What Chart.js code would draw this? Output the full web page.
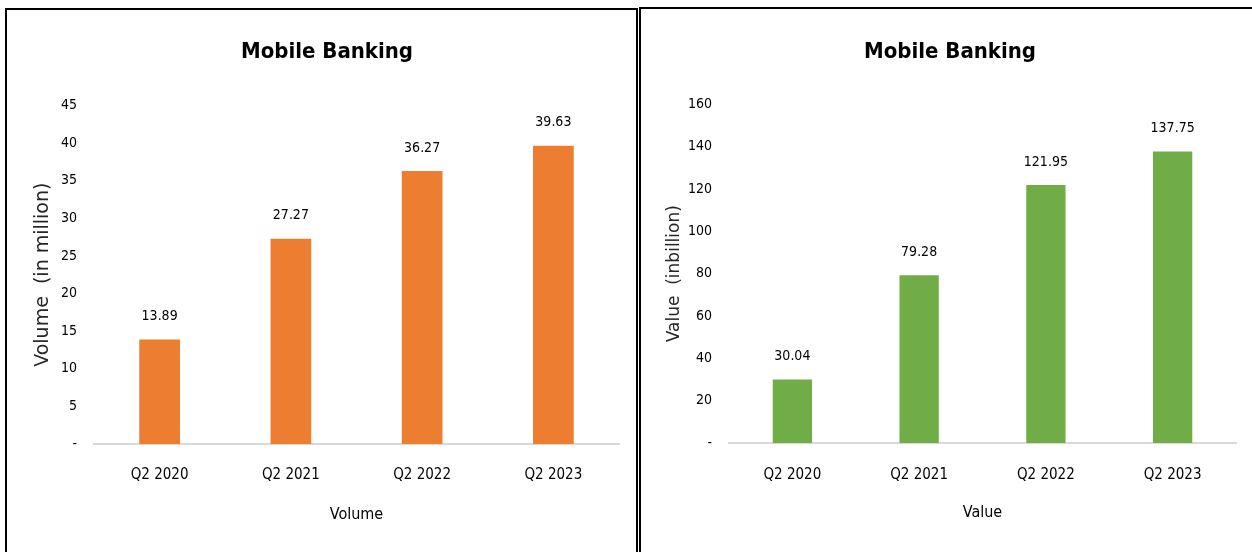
<!DOCTYPE html>
<html>
<head>
<meta charset="utf-8">
<script src="https://cdn.jsdelivr.net/npm/chart.js@4/dist/chart.umd.min.js"></script>
<style>
	html, body { margin: 0; padding: 0; background: #fff; }
	body { width: 1252px; height: 552px; position: relative; overflow: hidden; }
	.panel { position: absolute; box-sizing: border-box; }
	#leftPanel { left: 5px; top: 8px; width: 633px; height: 570px; border: 2px solid #000; }
	#rightPanel { left: 639px; top: 7px; width: 640px; height: 570px; border-left: 2px solid #000; border-top: 2px solid #000; }
	.box { position: absolute; }
	#volumeBox { left: 8px; top: 12px; width: 628px; height: 536px; }
	#valueBox { left: 641px; top: 10px; width: 611px; height: 540px; }
</style>
</head>
<body>
<div class="panel" id="leftPanel"></div>
<div class="panel" id="rightPanel"></div>
<div class="box" id="volumeBox"><canvas id="volumeChart"></canvas></div>
<div class="box" id="valueBox"><canvas id="valueChart"></canvas></div>

<script>
const quarters = ["Q2 2020", "Q2 2021", "Q2 2022", "Q2 2023"]
const volumeData = [13.89, 27.27, 36.27, 39.63]
const valueData = [30.04, 79.28, 121.95, 137.75]

const narrow = "'Liberation Sans Narrow', 'DejaVu Sans Condensed', 'Arial Narrow', sans-serif"
const textColor = "#000"

// draws the numbers above each bar
const barLabels = {
	id: "barLabels",
	afterDatasetsDraw(chart) {
		const c = chart.ctx
		c.save()
		c.font = "14px " + narrow
		c.fillStyle = textColor
		c.textAlign = "center"
		c.textBaseline = "middle"
		chart.getDatasetMeta(0).data.forEach((bar, i) => {
			const v = chart.data.datasets[0].data[i]
			c.fillText(v.toFixed(2), bar.x, bar.y - 23)
		})
		c.restore()
	},
}

const makeConfig = (opts) => ({
	type: "bar",
	data: {
		labels: quarters,
		datasets: [
			{
				data: opts.data,
				backgroundColor: opts.color,
				borderWidth: 0,
				barPercentage: 0.31,
				categoryPercentage: 1,
			},
		],
	},
	plugins: [barLabels],
	options: {
		responsive: true,
		maintainAspectRatio: false,
		animation: false,
		layout: { padding: { left: opts.padLeft, right: opts.padRight } },
		plugins: {
			legend: { display: false },
			tooltip: { enabled: false },
			title: {
				display: true,
				text: "Mobile Banking",
				color: "#000",
				font: { family: narrow, size: 22, weight: "bold", lineHeight: 1.2 },
				padding: { top: opts.titleTop, bottom: opts.titleBottom },
			},
		},
		scales: {
			x: {
				grid: { display: false, drawTicks: false },
				border: { display: true, color: "#d9d9d9", width: 2 },
				ticks: {
					color: textColor,
					padding: opts.xTickPad,
					font: { family: narrow, size: 15, lineHeight: 1.2 },
				},
				title: {
					display: true,
					text: opts.xTitle,
					color: textColor,
					font: { family: narrow, size: 16, lineHeight: 1.2 },
					padding: { top: 0, bottom: opts.xTitleBottom },
				},
				afterFit: (scale) => {
					scale.height = opts.xHeight
				},
			},
			y: {
				min: 0,
				max: opts.max,
				grid: { display: false, drawTicks: false },
				border: { display: false },
				ticks: {
					stepSize: opts.step,
					color: textColor,
					padding: 17,
					font: { family: narrow, size: 14 },
					callback: (v) => (v === 0 ? "-" : v),
				},
				title: {
					display: true,
					text: opts.yTitle,
					color: "#262626",
					font: { family: "'DejaVu Sans', sans-serif", size: opts.yTitleSize, lineHeight: 1.2 },
					padding: { top: opts.yTitleTop, bottom: 0 },
				},
				afterFit: (scale) => {
					scale.width = opts.yWidth
				},
			},
		},
	},
})

new Chart(
	document.getElementById("volumeChart"),
	makeConfig({
		data: volumeData,
		color: "#ED7D31",
		max: 45,
		step: 5,
		padLeft: 27,
		padRight: 17,
		titleTop: 27,
		titleBottom: 40,
		xTickPad: 22,
		xTitle: "Volume",
		xTitleBottom: 24,
		xHeight: 104,
		yTitle: "Volume  (in million)",
		yTitleSize: 19,
		yTitleTop: -3.4,
		yWidth: 59,
	})
)

new Chart(
	document.getElementById("valueChart"),
	makeConfig({
		data: valueData,
		color: "#70AD47",
		max: 160,
		step: 20,
		padLeft: 23,
		padRight: 16,
		titleTop: 29,
		titleBottom: 39,
		xTickPad: 23,
		xTitle: "Value",
		xTitleBottom: 28,
		xHeight: 107,
		yTitle: "Value  (inbillion)",
		yTitleSize: 17,
		yTitleTop: 0.3,
		yWidth: 65,
	})
)
</script>
</body>
</html>
